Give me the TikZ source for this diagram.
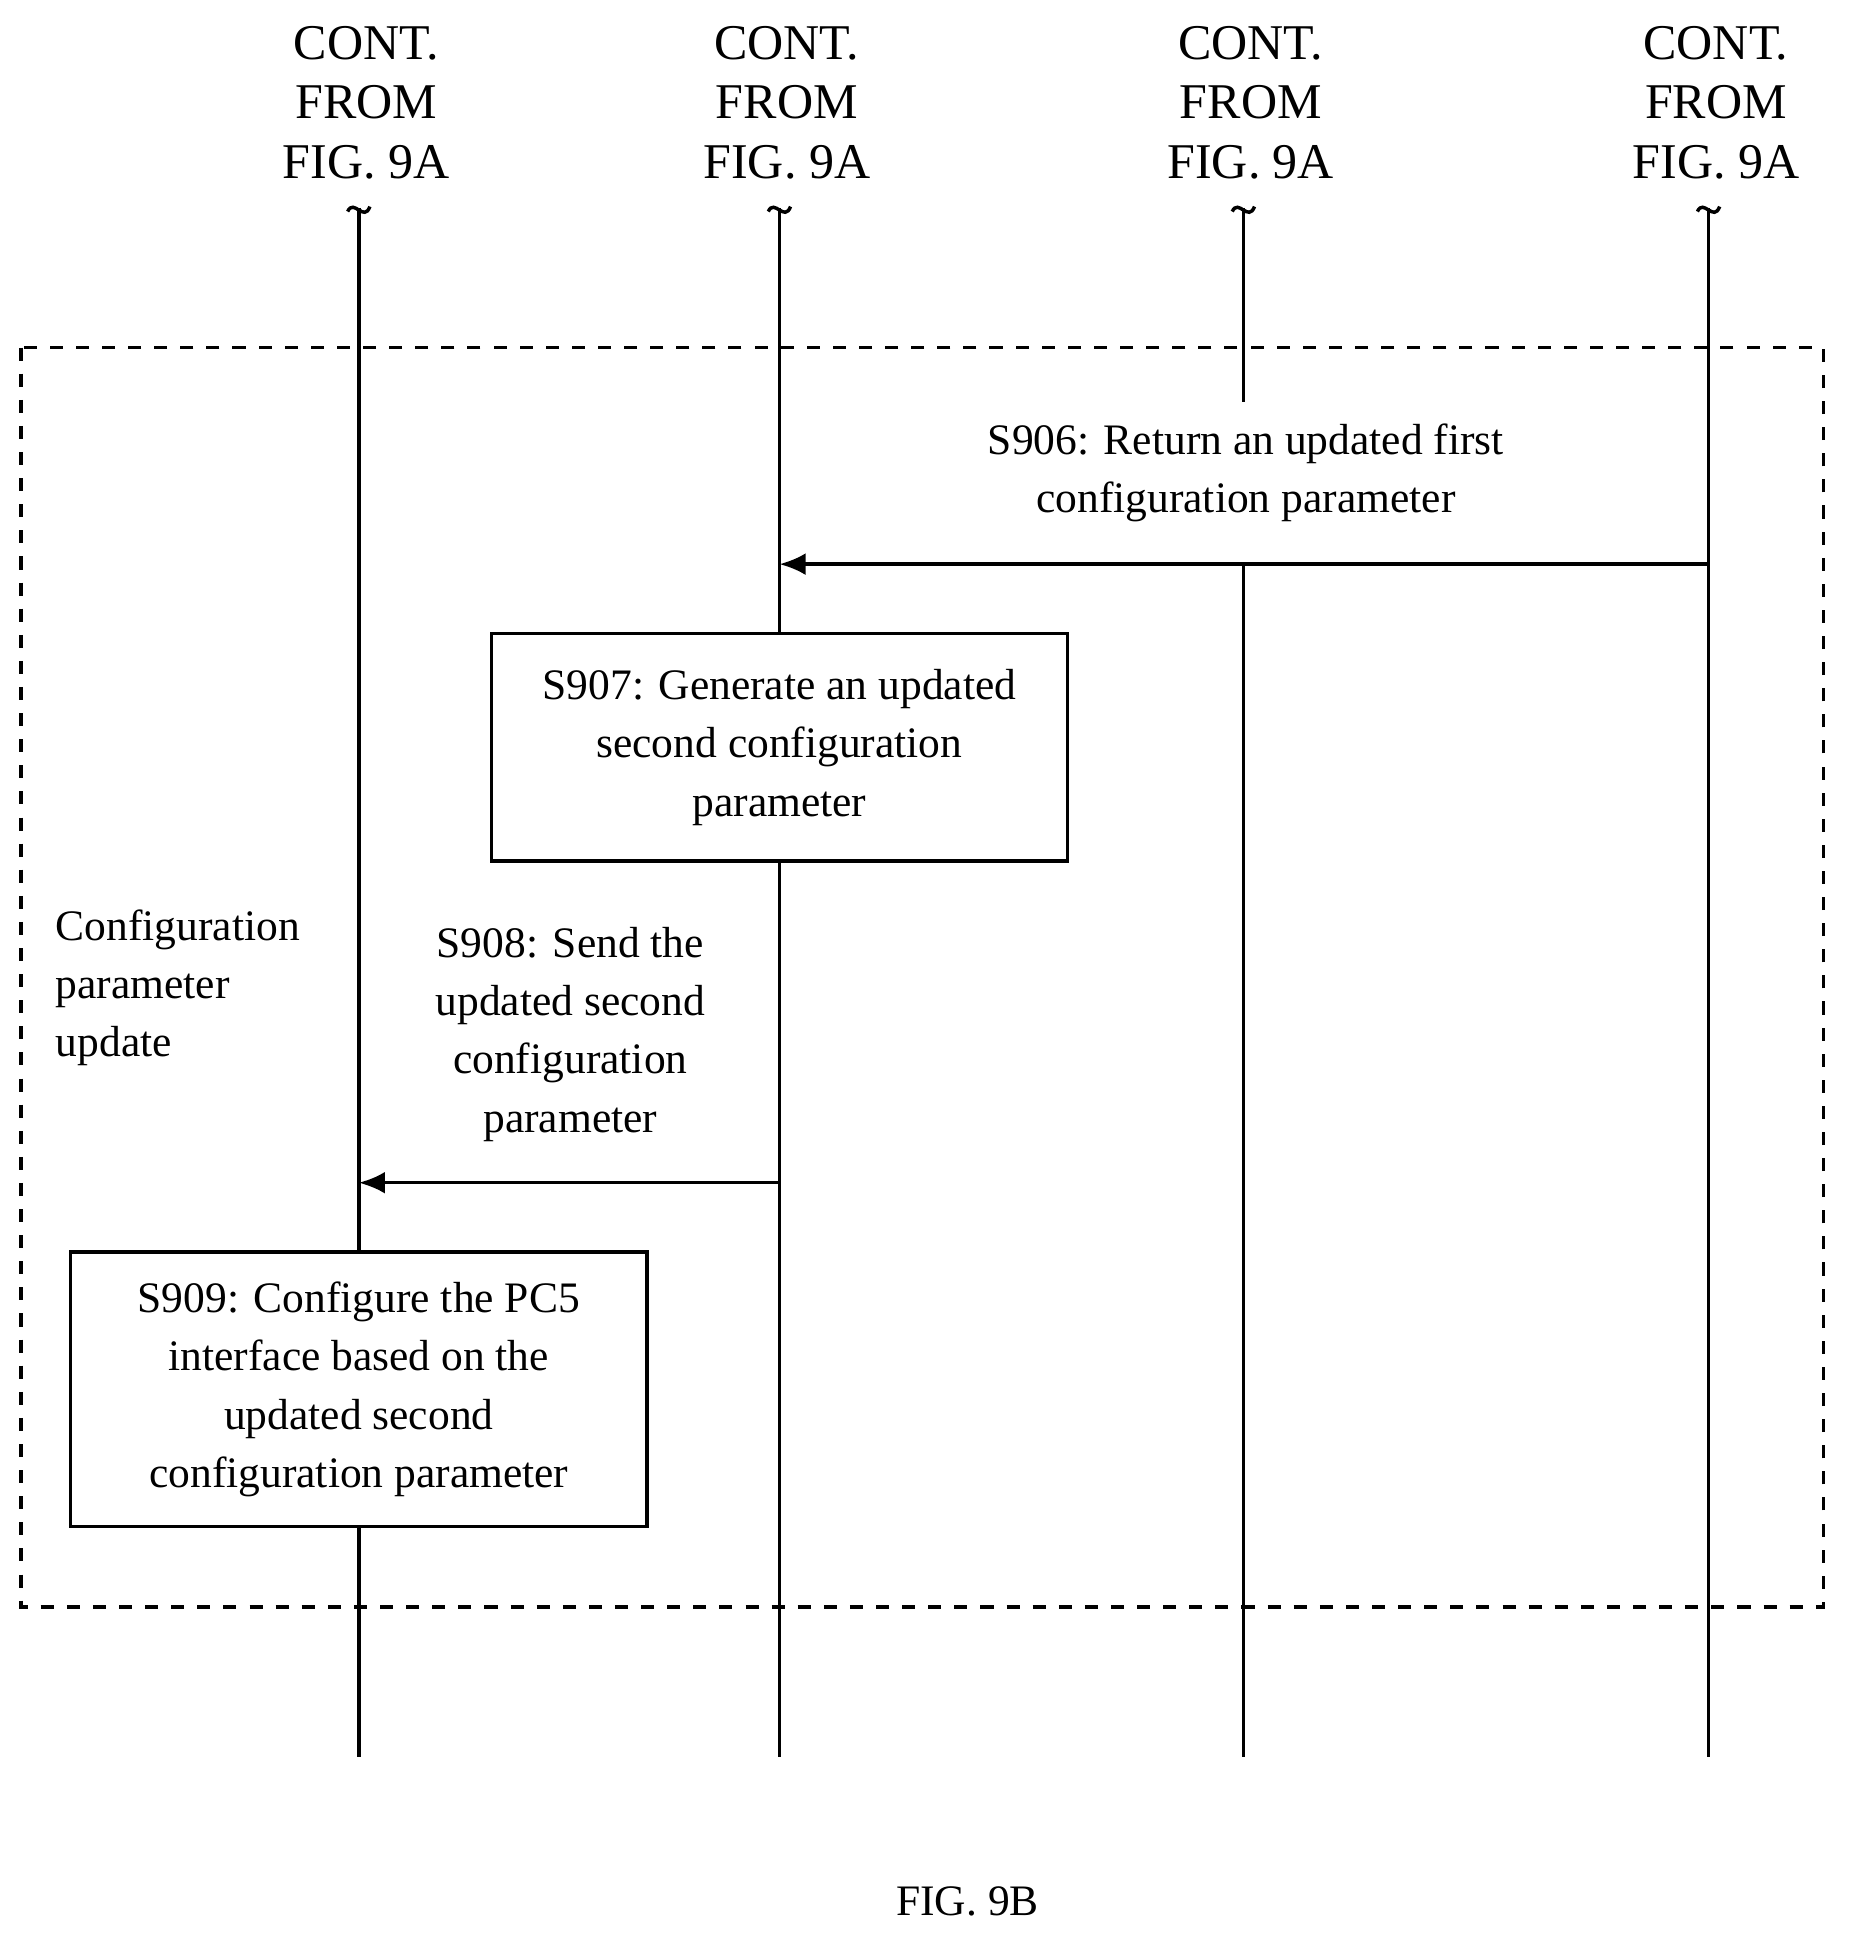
\documentclass[tikz,border=0pt]{standalone}
\usepackage{fontspec}
\setmainfont{Liberation Serif}
\usetikzlibrary{arrows.meta,positioning}
\begin{document}
\begin{tikzpicture}[x=0.01cm,y=-0.01cm,thick,
  head/.style={align=center,font=\fontsize{11.5}{13.6}\selectfont},
  lbl/.style={align=center,font=\fontsize{10}{13.4}\selectfont},
  stepbox/.style={draw,align=center,font=\fontsize{10}{13.4}\selectfont,inner sep=0pt},
  msg/.style={-{Latex[length=6pt,width=5pt]}}]
\useasboundingbox (0,0) rectangle (1500,1577);
%headers and lifelines
\foreach \n/\x in {a/290,b/630,c/1005,d/1381}{
  \node[head] (h\n) at (\x+6,83) {CONT.\\FROM\\FIG. 9A};
  \draw (\x-9,171) .. controls (\x-4,160) and (\x+4,180) .. (\x+9,167);
  \coordinate (t\n) at (\x,168);
  \coordinate (e\n) at (\x,1420);
}
%dashed frame
\draw[dashed] (17,281) rectangle (1474,1299);
\node[lbl,align=left,anchor=north west] (upd) at (32,722) {Configuration\\parameter\\update};
%boxes
\node[stepbox,minimum width=4.65cm,minimum height=1.84cm] (s907) at (630,604) {S907: Generate an updated\\second configuration\\parameter};
\node[stepbox,minimum width=4.66cm,minimum height=2.22cm] (s909) at (290,1123) {S909: Configure the PC5\\interface based on the\\updated second\\configuration parameter};
\coordinate (c1) at (1005,325);
\coordinate (c2) at (1005,456);
\coordinate (m1) at (1381,456);
\coordinate (m1e) at (630,456);
\coordinate (m2) at (630,956);
\coordinate (m2e) at (290,956);
%lifelines
\draw (ta) -- (s909.north -| ta);
\draw (s909.south -| ta) -- (ea);
\draw (tb) -- (s907.north);
\draw (s907.south) -- (eb);
\draw (tc) -- (c1);
\draw (c2) -- (ec);
\draw (td) -- (ed);
%messages
\draw[msg] (m1) -- (m1e);
\node[lbl] (l906) at (1007,382) {S906: Return an updated first\\configuration parameter};
\draw[msg] (m2) -- (m2e);
\node[lbl] (l908) at (461,836) {S908: Send the\\updated second\\configuration\\parameter};
\node[lbl] (fig) at (782,1537) {FIG. 9B};
\end{tikzpicture}
\end{document}
